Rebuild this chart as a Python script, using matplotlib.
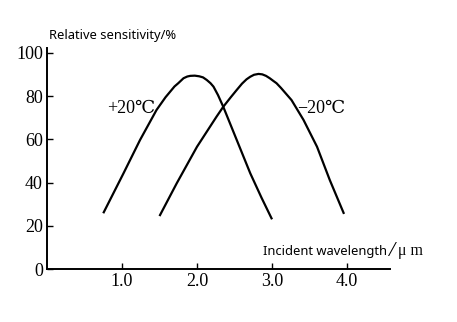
import matplotlib

matplotlib.use("Agg")
import matplotlib.pyplot as plt

# (wavelength in um, relative sensitivity in %)
warm_x = [0.75, 1.02, 1.24, 1.46, 1.58, 1.64, 1.70, 1.75, 1.82, 1.87, 1.91, 1.97, 2.03, 2.08,
          2.13, 2.18, 2.22, 2.28, 2.35, 2.53, 2.71, 2.86, 3.0]
warm_y = [25.8, 44.3, 59.7, 73.6, 79.5, 82.0, 84.5, 86.0, 88.3, 89.1, 89.4, 89.5, 89.2, 88.7,
          87.5, 86.0, 84.4, 80.5, 75.1, 59.7, 44.3, 33.0, 23.0]
cold_x = [1.50, 1.73, 2.0, 2.26, 2.35, 2.45, 2.53, 2.60, 2.66, 2.71, 2.76, 2.82, 2.87, 2.92,
          2.97, 3.02, 3.06, 3.12, 3.19, 3.26, 3.42, 3.6, 3.77, 3.96]
cold_y = [24.5, 39.7, 56.6, 70.5, 75.1, 79.5, 82.9, 85.8, 87.8, 89.0, 89.9, 90.3, 90.1, 89.4,
          88.3, 87.0, 86.0, 83.8, 81.0, 78.2, 69.0, 56.6, 41.2, 25.5]

x_ticks = [1.0, 2.0, 3.0, 4.0]
x_tick_labels = ["1.0", "2.0", "3.0", "4.0"]
y_ticks = [0, 20, 40, 60, 80, 100]
y_tick_labels = ["0", "20", "40", "60", "80", "100"]

SERIF = ["Liberation Serif", "DejaVu Serif"]
SANS = ["Noto Sans", "DejaVu Sans"]

fig = plt.figure(figsize=(4.57, 3.22), dpi=100, facecolor="white")
ax = fig.add_axes([47 / 457, 1 - 269 / 322, 343 / 457, 221 / 322])

ax.plot(warm_x, warm_y, color="black", lw=1.6, solid_capstyle="butt", solid_joinstyle="round")
ax.plot(cold_x, cold_y, color="black", lw=1.6, solid_capstyle="butt", solid_joinstyle="round")

ax.set_xlim(0, 4.573)
ax.set_ylim(0, 102.3)
for side in ("top", "right"):
    ax.spines[side].set_visible(False)
for side in ("left", "bottom"):
    ax.spines[side].set_linewidth(1.4)

ax.set_xticks(x_ticks)
ax.set_xticklabels(x_tick_labels, family=SERIF, fontsize=13)
ax.set_yticks(y_ticks)
ax.set_yticklabels(y_tick_labels, family=SERIF, fontsize=13)
ax.tick_params(direction="in", length=4, width=1.0, pad=3)

ax.text(0.80, 74.5, "+20\u2103", family=SERIF, fontsize=13, ha="left", va="center")
ax.text(3.33, 74.4, "\u221220\u2103", family=SERIF, fontsize=13, ha="left", va="center")

ax.text(2.88, 8.3, "Incident wavelength", family=SANS, fontsize=9.3, ha="left", va="center")
ax.text(4.54, 8.0, "/", family=SERIF, fontsize=16, ha="left", va="center", style="italic")
ax.text(4.68, 8.3, "\u03bc m", family=SERIF, fontsize=11.5, ha="left", va="center")

fig.text(49 / 457, 1 - 35 / 322, "Relative sensitivity/%", family=SANS, fontsize=9.3,
         ha="left", va="center")

fig.savefig("out.png", dpi=100, facecolor="white")
